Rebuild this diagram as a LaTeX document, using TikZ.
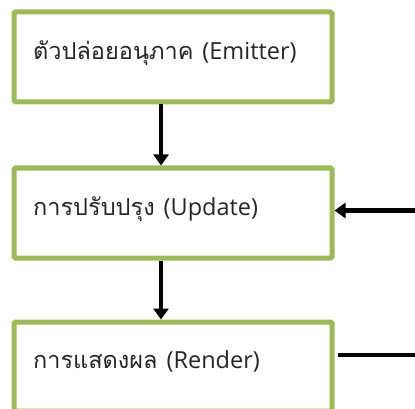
\documentclass[tikz,border=0pt]{standalone}
\usepackage{fontspec}
\newfontfamily\thaifont[Script=Thai]{Loma}
\newfontfamily\latinfont{Open Sans}
\newcommand{\thaitxt}[1]{{\thaifont\fontsize{23.5}{26}\selectfont #1}}
\newcommand{\latintxt}[1]{{\latinfont\fontsize{23.5}{26}\selectfont #1}}
\usetikzlibrary{arrows.meta}
\definecolor{boxgreen}{HTML}{9BBB59}
\definecolor{txtgray}{HTML}{262626}
\tikzset{
  stagebox/.style={draw=boxgreen, line width=5pt, rounded corners=1.5pt, fill=white, minimum width=318pt, inner sep=0pt, anchor=north west},
  stagetext/.style={anchor=base west, inner sep=0pt, text=txtgray},
  flow/.style={line width=4.5pt, -{Triangle[length=11pt,width=15pt]}},
  plainline/.style={line width=4pt}
}
\begin{document}
\begin{tikzpicture}[x=1pt,y=-1pt]
\useasboundingbox (0,0) rectangle (415,409);
\node[stagebox, minimum height=90pt] (emit) at (11.5,9.5) {};
\node[stagebox, minimum height=90pt] (upd) at (11.5,165.5) {};
\node[stagebox, minimum height=89pt] (rend) at (11.5,319.5) {};
\node[stagetext] (t1) at (33,60) {\thaitxt{ตัวปล่อยอนุภาค}\hspace{9pt}\latintxt{(Emitter)}};
\node[stagetext] (t2) at (33,215) {\thaitxt{การปรับปรุง}\hspace{9pt}\latintxt{(Update)}};
\node[stagetext] (t3) at (33,368) {\thaitxt{การแสดงผล}\hspace{9pt}\latintxt{(Render)}};
\coordinate (ax) at (161,0);
\coordinate (inR) at (415,210.5);
\coordinate (outR) at (415,355);
\coordinate (rendR) at (338,355);
\draw[flow] (emit.south -| ax) -- (upd.north -| ax);
\draw[flow] (upd.south -| ax) -- (rend.north -| ax);
\draw[flow] (inR) -- (upd.east |- inR);
\draw[plainline] (rendR) -- (outR);
\end{tikzpicture}
\end{document}
